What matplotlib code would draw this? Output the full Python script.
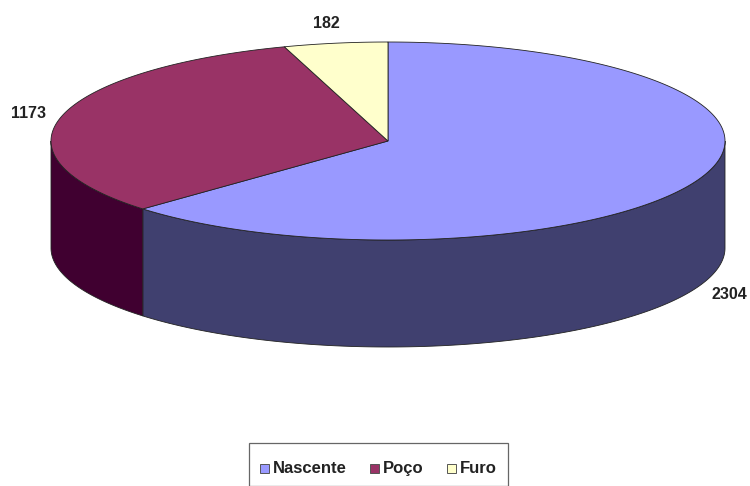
import numpy as np
import matplotlib
matplotlib.use("Agg")
import matplotlib.pyplot as plt
from matplotlib.patches import Polygon, Rectangle

plt.rcParams["font.family"] = ["Liberation Sans", "DejaVu Sans"]

categories = ["Nascente", "Poço", "Furo"]
values = [2304, 1173, 182]
top_colors = ["#9999FF", "#993366", "#FFFFCC"]
side_colors = ["#40406F", "#400030", "#7F7F66"]

# ellipse geometry, in pixels of the 750x486 picture
cx, cy = 388, 141
rx, ry = 337, 99
depth = 107


def rim(a0, a1, n=200):
    t = np.radians(np.linspace(a0, a1, n))
    return cx + rx * np.cos(t), cy - ry * np.sin(t)


fig = plt.figure(figsize=(7.5, 4.86), dpi=100)
ax = fig.add_axes([0, 0, 1, 1])
ax.set_xlim(0, 750)
ax.set_ylim(486, 0)
ax.axis("off")

fractions = np.array(values) / sum(values)
ends = 90 - np.cumsum(fractions) * 360
starts = np.r_[90, ends[:-1]]

# side wall first, only the front half of the rim is visible
for a0, a1, col in zip(starts, ends, side_colors):
    a0c, a1c = min(a0, 0), max(a1, -180)
    if a0c <= a1c:
        continue
    x, y = rim(a0c, a1c)
    pts = np.r_[np.c_[x, y], np.c_[x[::-1], y[::-1] + depth]]
    ax.add_patch(Polygon(pts, closed=True, fc=col, ec="#222222", lw=0.6))

for a0, a1, col in zip(starts, ends, top_colors):
    x, y = rim(a0, a1)
    pts = np.r_[[[cx, cy]], np.c_[x, y]]
    ax.add_patch(Polygon(pts, closed=True, fc=col, ec="#222222", lw=0.6))

ax.text(28, 113, "1173", ha="center", va="center", fontsize=11.5, fontweight="bold", color="#222222")
ax.text(326, 24, "182", ha="center", va="center", fontsize=11.5, fontweight="bold", color="#222222")
ax.text(729, 294, "2304", ha="center", va="center", fontsize=11.5, fontweight="bold", color="#222222")

# legend box
ax.add_patch(Rectangle((249, 443), 259, 43, fc="white", ec="#666666", lw=0.9, clip_on=True))
for x0, name, col in zip([260, 370, 447], categories, top_colors):
    ax.add_patch(Rectangle((x0, 464), 9, 9, fc=col, ec="#555555", lw=0.7))
    ax.text(x0 + 13, 468.5, name, ha="left", va="center", fontsize=12, fontweight="bold", color="#222222")

fig.savefig("out.png", dpi=100)
